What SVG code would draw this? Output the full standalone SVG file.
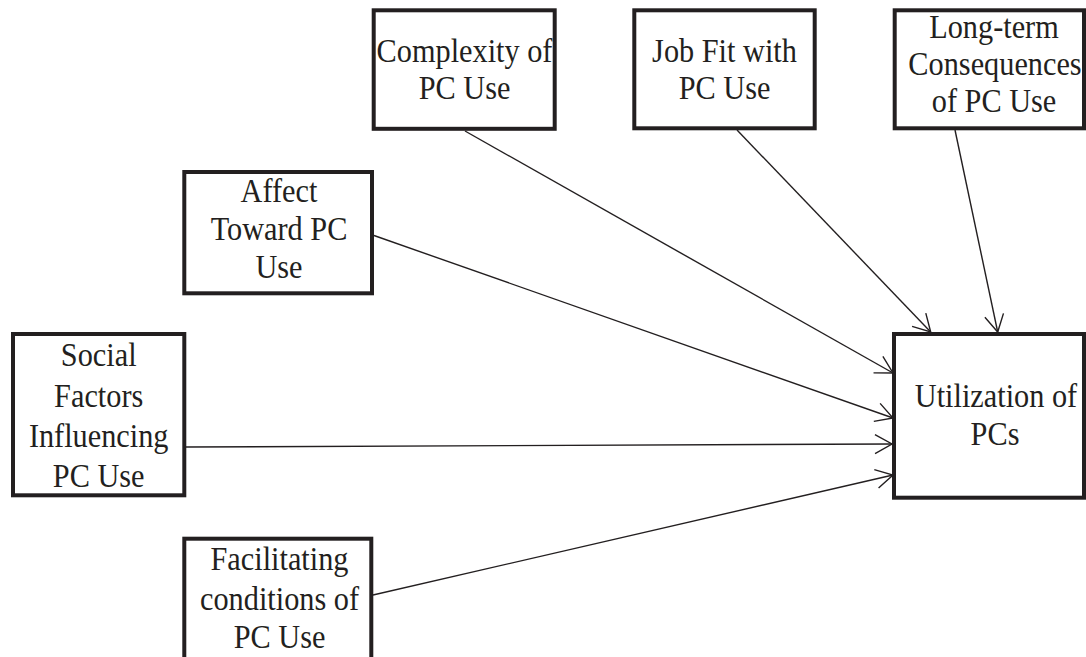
<svg xmlns="http://www.w3.org/2000/svg" width="1086" height="657" viewBox="0 0 1086 657">
  <style>
    .box { fill: #ffffff; stroke: #231f20; stroke-width: 4; }
    .lbl { font-family: "Liberation Serif", "Times New Roman", serif; font-size: 30.3px; fill: #231f20; text-anchor: middle; }
    .edge { fill: none; stroke: #231f20; stroke-width: 1.4; }
  </style>
  <defs>
    <marker id="arrow" viewBox="-19 -11 21 22" markerWidth="21" markerHeight="22" markerUnits="userSpaceOnUse" refX="0" refY="0" orient="auto">
      <path d="M -17,-9.5 L 0,0 L -17,9.5" fill="none" stroke="#231f20" stroke-width="1.4"/>
    </marker>
  </defs>
  <rect width="1086" height="657" fill="#ffffff"/>

  <!-- labels use a slightly tall glyph: matrix(1 0 0 1.1 x baseline) -->
  <g id="complexity">
    <rect class="box" x="373.7" y="10.3" width="181" height="118.5"/>
    <text class="lbl" transform="matrix(1 0 0 1.1 464.5 61.7)">Complexity of</text>
    <text class="lbl" transform="matrix(1 0 0 1.1 464.5 99.3)">PC Use</text>
  </g>

  <g id="job-fit">
    <rect class="box" x="634.3" y="10.3" width="180.4" height="118"/>
    <text class="lbl" transform="matrix(1 0 0 1.1 724.5 61.7)">Job Fit with</text>
    <text class="lbl" transform="matrix(1 0 0 1.1 724.5 99.3)">PC Use</text>
  </g>

  <g id="long-term">
    <rect class="box" x="894.7" y="10.3" width="189.3" height="118"/>
    <text class="lbl" transform="matrix(1 0 0 1.1 994 38.3)">Long-term</text>
    <text class="lbl" transform="matrix(1 0 0 1.1 995 75)">Consequences</text>
    <text class="lbl" transform="matrix(1 0 0 1.1 994 111.7)">of PC Use</text>
  </g>

  <g id="affect">
    <rect class="box" x="184.3" y="172" width="187.7" height="121.3"/>
    <text class="lbl" transform="matrix(1 0 0 1.1 279 201.7)">Affect</text>
    <text class="lbl" transform="matrix(1 0 0 1.1 279 240)">Toward PC</text>
    <text class="lbl" transform="matrix(1 0 0 1.1 279 278.3)">Use</text>
  </g>

  <g id="social">
    <rect class="box" x="13" y="334" width="171.3" height="161.3"/>
    <text class="lbl" transform="matrix(1 0 0 1.1 98.7 365.7)">Social</text>
    <text class="lbl" transform="matrix(1 0 0 1.1 98.7 406.7)">Factors</text>
    <text class="lbl" transform="matrix(1 0 0 1.1 98.7 446.7)">Influencing</text>
    <text class="lbl" transform="matrix(1 0 0 1.1 98.7 486.7)">PC Use</text>
  </g>

  <g id="facilitating">
    <rect class="box" x="184.3" y="538.7" width="187" height="140"/>
    <text class="lbl" transform="matrix(1 0 0 1.1 279.5 570)">Facilitating</text>
    <text class="lbl" transform="matrix(1 0 0 1.1 279.5 610)">conditions of</text>
    <text class="lbl" transform="matrix(1 0 0 1.1 279.5 648.3)">PC Use</text>
  </g>

  <g id="utilization">
    <rect class="box" x="894" y="334" width="190" height="163.7"/>
    <text class="lbl" transform="matrix(1 0 0 1.1 996 406.7)">Utilization of</text>
    <text class="lbl" transform="matrix(1 0 0 1.1 995 445)">PCs</text>
  </g>

  <g id="connectors">
    <line class="edge" x1="465" y1="131" x2="893" y2="373" marker-end="url(#arrow)"/>
    <line class="edge" x1="737" y1="130" x2="930.7" y2="332" marker-end="url(#arrow)"/>
    <line class="edge" x1="955" y1="130" x2="997.7" y2="332" marker-end="url(#arrow)"/>
    <line class="edge" x1="374" y1="235.5" x2="893" y2="418" marker-end="url(#arrow)"/>
    <line class="edge" x1="186" y1="447" x2="892" y2="444" marker-end="url(#arrow)"/>
    <line class="edge" x1="373" y1="595" x2="893" y2="475" marker-end="url(#arrow)"/>
  </g>
</svg>
